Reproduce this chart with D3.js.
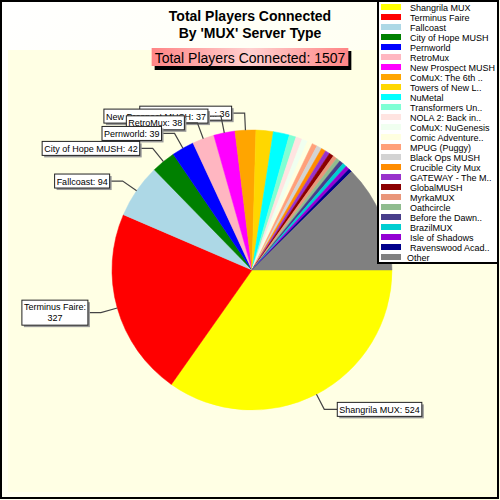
<!DOCTYPE html>
<html>
<head>
<meta charset="utf-8">
<script src="https://cdn.jsdelivr.net/npm/d3@7"></script>
<style>
  body { margin: 0; background: #fff; }
  svg { display: block; font-family: "Liberation Sans", Arial, sans-serif; }
</style>
</head>
<body>
<div id="chart"></div>
<script>
// server names (legend order = slice order, clockwise from 3 o'clock)
const servers = [
  "Shangrila MUX", "Terminus Faire", "Fallcoast", "City of Hope MUSH", "Pernworld",
  "RetroMux", "New Prospect MUSH", "CoMuX: The 6th ..", "Towers of New L..", "NuMetal",
  "Transformers Un..", "NOLA 2: Back in..", "CoMuX: NuGenesis", "Comic Adventure..",
  "MPUG (Puggy)", "Black Ops MUSH", "Crucible City Mux", "GATEWAY - The M..",
  "GlobalMUSH", "MyrkaMUX", "Oathcircle", "Before the Dawn..", "BrazilMUX",
  "Isle of Shadows", "Ravenswood Acad..", "Other"
];
// players connected
const players = [
  524, 327, 94, 42, 39, 38, 37, 36, 30, 28,
  12, 11, 10, 9, 9, 9, 8, 8, 8, 7, 7, 7, 7, 7, 6, 187
];
const palette = [
  "#ffff00", "#ff0000", "#add8e6", "#008000", "#0000ff", "#ffb6c1", "#ff00ff",
  "#ffa500", "#ffd700", "#00ffff", "#7fffd4", "#ffe4e1", "#f0fff0", "#ffffe0",
  "#ffa07a", "#d3d3d3", "#ff8c00", "#9932cc", "#8b0000", "#e9967a", "#8fbc8f",
  "#483d8b", "#00ced1", "#9400d3", "#00008b", "#808080"
];
// only the biggest slices get a callout
const labelCount = 8;

const total = d3.sum(players);
const width = 500, height = 500;

const svg = d3.select("#chart").append("svg")
  .attr("width", width)
  .attr("height", height);

const defs = svg.append("defs");
const bg = defs.append("linearGradient").attr("id", "bg")
  .attr("x1", "0").attr("y1", "0").attr("x2", "1").attr("y2", "1");
bg.append("stop").attr("offset", "0%").attr("stop-color", "#ffffff");
bg.append("stop").attr("offset", "100%").attr("stop-color", "#ffffe0");

const pinkGrad = defs.append("linearGradient").attr("id", "pink")
  .attr("x1", "0").attr("y1", "0").attr("x2", "1").attr("y2", "0");
pinkGrad.append("stop").attr("offset", "0%").attr("stop-color", "#ff8585");
pinkGrad.append("stop").attr("offset", "50%").attr("stop-color", "#ffd0d0");
pinkGrad.append("stop").attr("offset", "100%").attr("stop-color", "#ff8585");

// background + frame
svg.append("rect").attr("x", 0).attr("y", 0).attr("width", width).attr("height", height)
  .attr("fill", "url(#bg)");
svg.append("rect").attr("x", 8).attr("y", 50).attr("width", 484).attr("height", 442)
  .attr("fill", "#ffffe4");
svg.append("rect").attr("x", 1).attr("y", 1).attr("width", 497).attr("height", 497)
  .attr("fill", "none").attr("stroke", "#000").attr("stroke-width", 2);

// title
const title = svg.append("text")
  .attr("x", 250).attr("text-anchor", "middle")
  .attr("font-size", 14).attr("font-weight", "bold").attr("fill", "#000");
title.append("tspan").attr("x", 250).attr("y", 21).text("Total Players Connected");
title.append("tspan").attr("x", 250).attr("y", 37.5).text("By 'MUX' Server Type");

// sub-title box
const sub = svg.append("g");
const subText = sub.append("text")
  .attr("x", 250).attr("y", 63).attr("text-anchor", "middle")
  .attr("font-size", 14).attr("fill", "#000")
  .text(`Total Players Connected: ${total}`);
const sw = subText.node().getComputedTextLength() + 6;
sub.insert("rect", "text").attr("x", 250 - sw / 2 + 3).attr("y", 51).attr("width", sw).attr("height", 19)
  .attr("fill", "#000");
sub.insert("rect", "text").attr("x", 250 - sw / 2).attr("y", 48).attr("width", sw).attr("height", 18)
  .attr("fill", "url(#pink)");

// pie
const cx = 252, cy = 270, radius = 140;
const pie = d3.pie().sort(null).value(d => d)
  .startAngle(Math.PI / 2).endAngle(Math.PI / 2 + 2 * Math.PI);
const arcs = pie(players);
const arc = d3.arc().innerRadius(0).outerRadius(radius);

const g = svg.append("g").attr("transform", `translate(${cx},${cy})`);
g.selectAll("path")
  .data(arcs)
  .join("path")
  .attr("d", arc)
  .attr("fill", (d, i) => palette[i])
  .attr("stroke", (d, i) => palette[i])
  .attr("stroke-width", 0.5);

// callouts
const pointArc = d3.arc().innerRadius(radius).outerRadius(radius);
const elbowArc = d3.arc().innerRadius(radius + 17).outerRadius(radius + 17);
const labels = arcs.slice(0, labelCount).map((d, i) => ({ d, i }));
const lg = svg.append("g").attr("transform", `translate(${cx},${cy})`);

labels.slice().reverse().forEach(({ d, i }) => {
  const mid = (d.startAngle + d.endAngle) / 2;
  const p = pointArc.centroid(d);
  const e = elbowArc.centroid(d);
  const right = Math.sin(mid) > 0;
  const endX = e[0] + (right ? 13 : -13);
  const grp = lg.append("g");
  grp.append("polyline")
    .attr("points", [p, e, [endX, e[1]]].map(q => q.join(",")).join(" "))
    .attr("fill", "none").attr("stroke", "#444").attr("stroke-width", 1.2);

  const txt = `${servers[i]}: ${d.data}`;
  const t = grp.append("text").attr("font-size", 9).attr("fill", "#000");
  let lines = [txt];
  t.text(txt);
  let tw = t.node().getComputedTextLength();
  // wrap when it would run off the left edge
  if (!right && cx + endX - tw - 4 < 14) {
    lines = [`${servers[i]}:`, `${d.data}`];
    t.text(null);
  }
  if (lines.length > 1) {
    lines.forEach(l => t.append("tspan").text(l));
    tw = d3.max(t.selectAll("tspan").nodes(), n => n.getComputedTextLength());
  }
  const bw = tw + 4, lh = 11, bh = lines.length * lh + 3;
  const bx = right ? endX : endX - bw;
  const by = e[1] - bh / 2;
  grp.insert("rect", "text").attr("x", bx + 2).attr("y", by + 2).attr("width", bw).attr("height", bh)
    .attr("fill", "#999");
  grp.insert("rect", "text").attr("x", bx).attr("y", by).attr("width", bw).attr("height", bh)
    .attr("fill", "#fff").attr("stroke", "#222").attr("stroke-width", 1);
  if (lines.length > 1) {
    t.attr("text-anchor", "middle");
    t.selectAll("tspan").attr("x", bx + bw / 2).attr("y", (s, k) => by + 10 + k * lh);
  } else {
    t.attr("x", bx + 2).attr("y", by + 10.5);
  }
});

// legend
const legend = svg.append("g");
legend.append("rect").attr("x", 378).attr("y", 1).attr("width", 120).attr("height", 262)
  .attr("fill", "#fff").attr("stroke", "#000").attr("stroke-width", 2);
const y = d3.scaleBand().domain(servers).range([2, 262]);
const rows = legend.selectAll("g.row")
  .data(servers)
  .join("g").attr("class", "row")
  .attr("transform", d => `translate(0,${y(d) + y.bandwidth() / 2})`);
rows.append("rect")
  .attr("x", 381).attr("y", -3).attr("width", 20).attr("height", 6)
  .attr("fill", (d, i) => palette[i]);
rows.append("text")
  .attr("x", (d, i) => i === servers.length - 1 ? 407 : 410)
  .attr("y", 3.5)
  .attr("font-size", 9)
  .attr("fill", "#000")
  .text(d => d);
</script>
</body>
</html>
